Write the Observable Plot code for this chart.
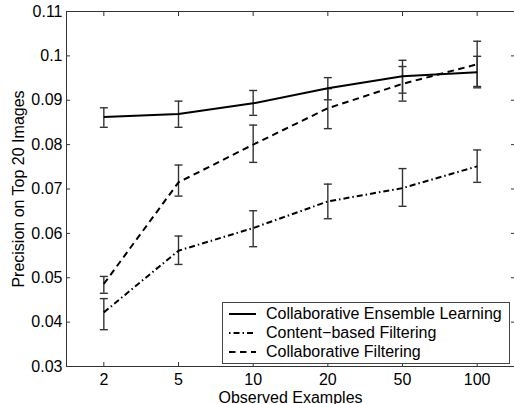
<!DOCTYPE html>
<html>
<head>
<meta charset="utf-8">
<script src="https://cdn.jsdelivr.net/npm/d3@7"></script>
<script src="https://cdn.jsdelivr.net/npm/@observablehq/plot@0.6"></script>
<style>
html, body { margin: 0; padding: 0; background: #fff; }
#wrap { position: relative; width: 514px; height: 404px; overflow: hidden;
  font-family: "Liberation Sans", Arial, Helvetica, sans-serif; }
#legend { position: absolute; left: 222px; top: 302px; width: 286px; height: 58px;
  border: 1px solid #444; background: #fff; padding-top: 2px; box-sizing: content-box; }
.row { height: 18.7px; display: flex; align-items: center; font-size: 16px; color: #000; white-space: nowrap; }
.row svg { margin-left: 6px; margin-right: 10px; flex: none; }
</style>
</head>
<body>
<div id="wrap"></div>
<script>
// Categories on the x axis
const categories = ["2", "5", "10", "20", "50", "100"];
// y axis range and ticks
const yDomain = [0.03, 0.11];
const yTicks = [0.03, 0.04, 0.05, 0.06, 0.07, 0.08, 0.09, 0.1, 0.11];

// Collaborative Ensemble Learning
const celMean = [0.0862, 0.0869, 0.0893, 0.0927, 0.0954, 0.0963];
const celLow  = [0.0839, 0.0839, 0.0866, 0.0901, 0.0916, 0.0931];
const celHigh = [0.0883, 0.0898, 0.0922, 0.0951, 0.0976, 0.0999];
// Content-based Filtering
const cbfMean = [0.0422, 0.0561, 0.0612, 0.0672, 0.0702, 0.0751];
const cbfLow  = [0.0383, 0.0530, 0.0570, 0.0633, 0.0661, 0.0715];
const cbfHigh = [0.0453, 0.0594, 0.0651, 0.0711, 0.0746, 0.0788];
// Collaborative Filtering
const cfMean = [0.0486, 0.0715, 0.0800, 0.0882, 0.0937, 0.0981];
const cfLow  = [0.0465, 0.0684, 0.0760, 0.0836, 0.0898, 0.0928];
const cfHigh = [0.0503, 0.0754, 0.0844, 0.0926, 0.0990, 0.1033];

const seriesNames = ["Collaborative Ensemble Learning", "Content-based Filtering", "Collaborative Filtering"];
const seriesDash = [null, "6,3,1.5,3", "6.5,4.5"];
const legendDashOffset = [0, 9, 0];
const legendLabels = ["Collaborative Ensemble Learning", "Content\u2212based Filtering", "Collaborative Filtering"];

const seriesData = [
  [celMean, celLow, celHigh],
  [cbfMean, cbfLow, cbfHigh],
  [cfMean, cfLow, cfHigh]
];

const rows = seriesData.flatMap(([m, lo, hi], s) =>
  categories.map((c, i) => ({ series: seriesNames[s], s, i, mean: m[i], lo: lo[i], hi: hi[i] })));

const cap = {
  draw(ctx, size) {
    const r = Math.sqrt(size / Math.PI);
    ctx.moveTo(-r, 0);
    ctx.lineTo(r, 0);
  }
};

const xIdx = d3.range(categories.length);
const xDomain = [-0.5, categories.length - 0.5];
const fmtY = d => String(+d.toFixed(2));
const frameColor = "#333";
const errColor = "#333";

const lineMarks = seriesNames.map((name, s) =>
  Plot.line(rows.filter(r => r.s === s), {
    x: "i", y: "mean", stroke: "black", strokeWidth: 2,
    strokeDasharray: seriesDash[s] || undefined, strokeLinecap: "butt"
  }));

const chart = Plot.plot({
  width: 514,
  height: 404,
  marginLeft: 66,
  marginRight: 0,
  marginTop: 11,
  marginBottom: 38,
  style: { fontFamily: "'Liberation Sans', Arial, Helvetica, sans-serif", fontSize: "16px", color: "#000", background: "#fff" },
  x: { domain: xDomain },
  y: { domain: yDomain },
  marks: [
    // frame (left, top, bottom)
    Plot.ruleY([yDomain[0], yDomain[1]], { stroke: frameColor, strokeWidth: 1 }),
    Plot.ruleX([xDomain[0]], { stroke: frameColor, strokeWidth: 1 }),
    // axes: labels
    Plot.axisX({ ticks: xIdx, tickFormat: i => categories[i], tickSize: 0, tickPadding: 7,
      label: "Observed Examples", labelAnchor: "center", labelArrow: "none", labelOffset: 36 }),
    Plot.axisY({ ticks: yTicks, tickFormat: fmtY, tickSize: 0, tickPadding: 4,
      label: "Precision on Top 20 Images", labelAnchor: "center", labelArrow: "none", labelOffset: 54 }),
    // inward tick marks on all four sides
    Plot.axisX({ ticks: xIdx, tickFormat: () => "", tickSize: -4, label: null, stroke: frameColor }),
    Plot.axisX({ anchor: "top", ticks: xIdx, tickFormat: () => "", tickSize: -4, label: null, stroke: frameColor }),
    Plot.axisY({ ticks: yTicks, tickFormat: () => "", tickSize: -4, label: null, stroke: frameColor }),
    Plot.axisY({ anchor: "right", ticks: yTicks, tickFormat: () => "", tickSize: -4, label: null, stroke: frameColor }),
    // error bars
    Plot.ruleX(rows, { x: "i", y1: "lo", y2: "hi", stroke: errColor, strokeWidth: 1.4 }),
    Plot.dot(rows, { x: "i", y: "lo", symbol: cap, r: 4, stroke: errColor, fill: "none", strokeWidth: 1.4 }),
    Plot.dot(rows, { x: "i", y: "hi", symbol: cap, r: 4, stroke: errColor, fill: "none", strokeWidth: 1.4 }),
    // series lines
    ...lineMarks
  ]
});

const wrap = document.getElementById("wrap");
wrap.appendChild(chart);

// Legend inside the plot area
const legend = document.createElement("div");
legend.id = "legend";
legendLabels.forEach((label, s) => {
  const row = document.createElement("div");
  row.className = "row";
  const ns = "http://www.w3.org/2000/svg";
  const svg = document.createElementNS(ns, "svg");
  svg.setAttribute("width", "27");
  svg.setAttribute("height", "10");
  const ln = document.createElementNS(ns, "line");
  ln.setAttribute("x1", "0"); ln.setAttribute("x2", "27");
  ln.setAttribute("y1", "5"); ln.setAttribute("y2", "5");
  ln.setAttribute("stroke", "black");
  ln.setAttribute("stroke-width", "2");
  if (seriesDash[s]) {
    ln.setAttribute("stroke-dasharray", seriesDash[s]);
    ln.setAttribute("stroke-dashoffset", String(legendDashOffset[s]));
  }
  svg.appendChild(ln);
  row.appendChild(svg);
  const span = document.createElement("span");
  span.textContent = label;
  row.appendChild(span);
  legend.appendChild(row);
});
wrap.appendChild(legend);
</script>
</body>
</html>
